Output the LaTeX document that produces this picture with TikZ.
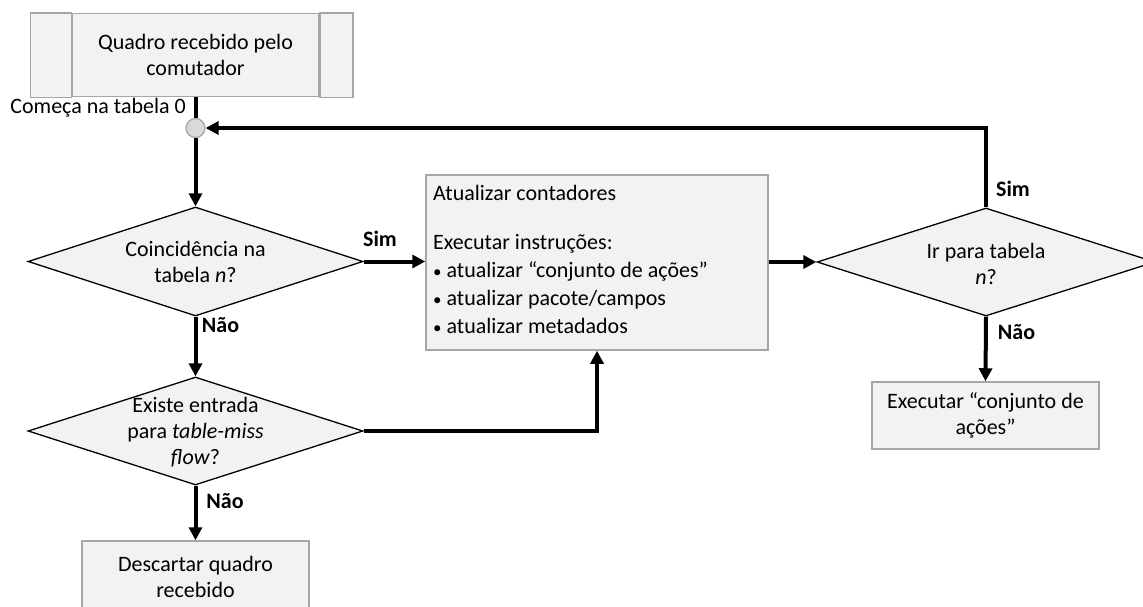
\documentclass[tikz,border=0pt]{standalone}
\usepackage{fontspec}
\setmainfont{Carlito}
\usetikzlibrary{shapes.geometric,arrows.meta}
\definecolor{boxfill}{HTML}{F2F2F2}
\definecolor{boxline}{HTML}{A6A6A6}
\definecolor{dotfill}{HTML}{D9D9D9}
\begin{document}
\begin{tikzpicture}[x=1pt,y=-1pt,
  every node/.style={font=\fontsize{22}{26}\selectfont},
  procbox/.style={draw=boxline, line width=1.5pt, fill=boxfill, inner sep=0pt, align=center},
  decision/.style={diamond, draw=black, line width=1.3pt, fill=boxfill, inner sep=0pt},
  txt/.style={inner sep=0pt, align=center},
  flow/.style={line width=4pt, -{Triangle[length=13pt,width=13pt]}},
  plainflow/.style={line width=4pt},
  answer/.style={font=\fontsize{22}{26}\selectfont\bfseries, inner sep=0pt},
  joindot/.style={circle, draw=boxline, fill=dotfill, line width=1.2pt, minimum size=19pt, inner sep=0pt}
]
\useasboundingbox (0,0) rectangle (1143,606);

% predefined-process block: middle cell carries the text, side cells drawn around it
\node[procbox, minimum width=247pt, minimum height=83pt] (start) at (195.5,55) {Quadro recebido pelo\\comutador};
\draw[draw=boxline, line width=1.5pt, fill=boxfill] ([xshift=-41pt]start.north west) rectangle (start.south west);
\draw[draw=boxline, line width=1.5pt, fill=boxfill] (start.north east) rectangle ([xshift=33pt]start.south east);

\node[inner sep=0pt, anchor=east] (begin) at (186,108) {Começa na tabela 0};
\node[joindot] (join) at (195.5,128) {};

% decisions
\node[decision, minimum width=335pt, minimum height=109pt] (d1) at (195.5,261.5) {};
\node[txt] (d1t) at (195.5,262) {Coincidência na\\tabela \textit{n}?};

\node[decision, minimum width=335pt, minimum height=108pt] (d2) at (195.5,431) {};
\node[txt] (d2t) at (195.5,432.5) {Existe entrada\\para \textit{table-miss}\\\textit{flow}?};

\node[decision, minimum width=338pt, minimum height=108pt] (d3) at (986,262) {};
\node[txt] (d3t) at (986,264) {Ir para tabela\\\textit{n}?};

% processing blocks
\node[procbox, minimum width=342pt, minimum height=175pt] (update) at (597,262.5) {};
\node[inner sep=0pt, anchor=base west, font=\fontsize{22}{28}\selectfont] (updtext) at (433,200)
  {\begin{tabular}[t]{@{}l@{}}
   Atualizar contadores\\[21pt]
   Executar instruções:\\
   {\fontsize{17}{28}\selectfont •} atualizar “conjunto de ações”\\
   {\fontsize{17}{28}\selectfont •} atualizar pacote/campos\\
   {\fontsize{17}{28}\selectfont •} atualizar metadados
   \end{tabular}};

\node[procbox, minimum width=227pt, minimum height=72pt] (discard) at (195.5,577) {Descartar quadro\\recebido};
\node[procbox, minimum width=227pt, minimum height=67pt] (exec) at (985.5,415.5) {Executar “conjunto de\\ações”};

% connectors
\draw[plainflow] (start.south) -- (join.north);
\draw[flow] (join.south) -- (d1.north);
\draw[flow] (d1.east) -- (d1.east -| update.west);
\draw[flow] (d1.south) -- (d2.north);
\draw[flow] (d2.east) -| (update.south);
\draw[flow] (d2.south) -- (discard.north);
\draw[flow] (update.east |- d3) -- (d3.west);
\draw[flow] (d3.north) |- (join.east);
\draw[flow] (d3.south) -- (exec.north);

% branch labels
\node[answer] (sim1) at (380,239) {Sim};
\node[answer] (nao1) at (220.5,325) {Não};
\node[answer] (nao2) at (225,501) {Não};
\node[answer] (sim2) at (1013,189) {Sim};
\node[answer] (nao3) at (1016.5,332) {Não};
\end{tikzpicture}
\end{document}
